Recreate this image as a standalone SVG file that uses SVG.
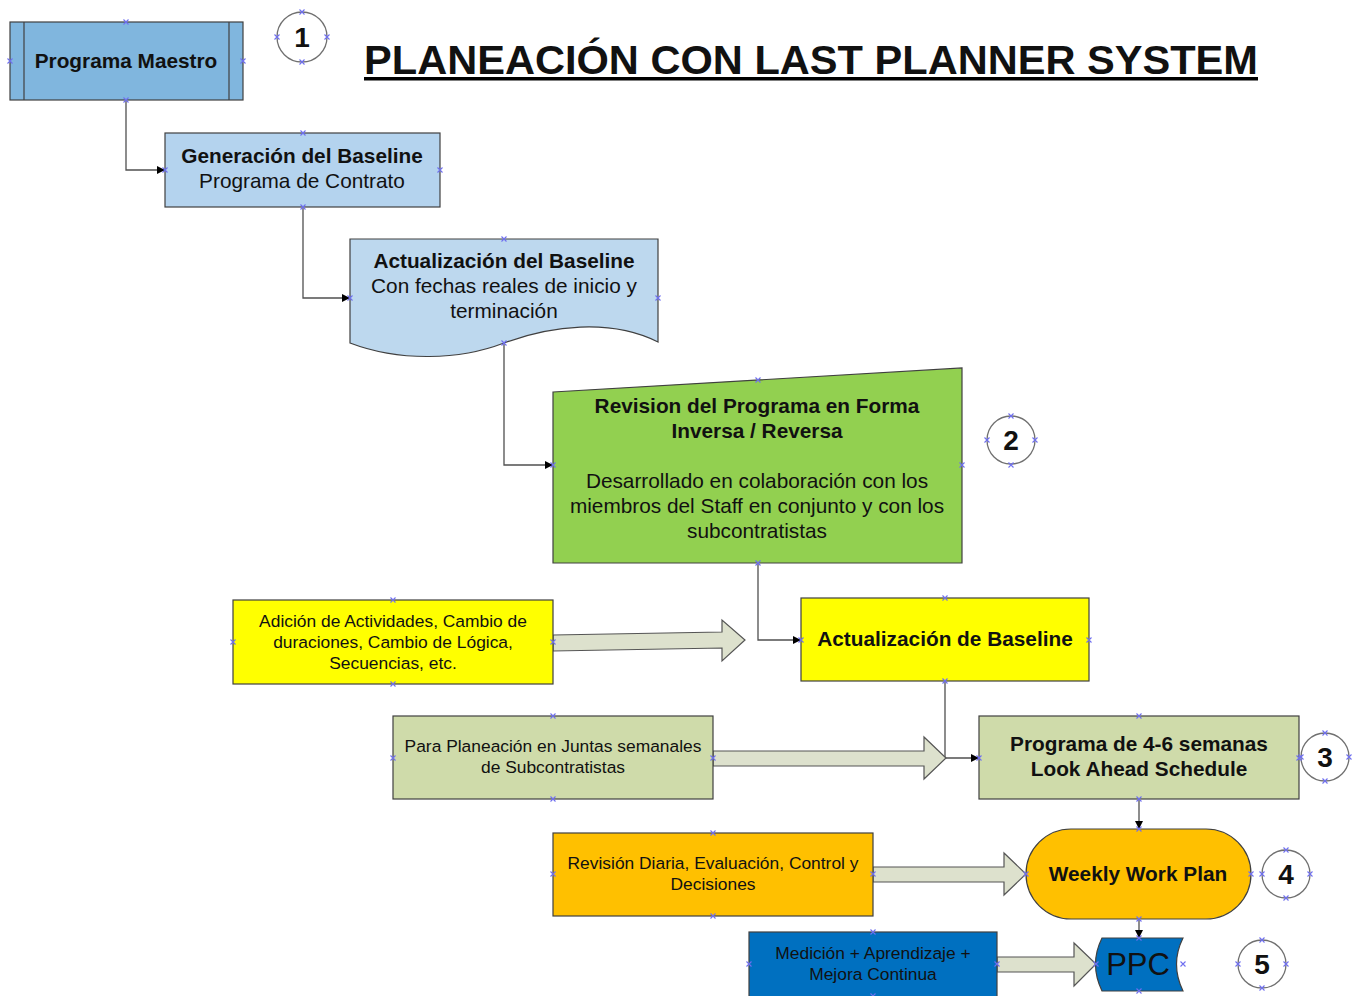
<svg xmlns="http://www.w3.org/2000/svg" xmlns:xlink="http://www.w3.org/1999/xlink" width="1359" height="996" viewBox="0 0 1359 996">
<style>
  text { font-family: "Liberation Sans", Arial, sans-serif; fill: #111; text-anchor: middle; }
  .b { font-weight: bold; font-size: 20.8px; }
  .r { font-size: 20.8px; }
  .s { font-size: 17.4px; }
  .num { font-weight: bold; font-size: 28px; }
  .box { stroke: #404040; stroke-width: 1.2; }
  .circ { fill: #fff; stroke: #707070; stroke-width: 1.3; }
  .conn { fill: none; stroke: #505050; stroke-width: 1.3; marker-end: url(#ah); }
  .barrow { fill: #DDE1CD; stroke: #555; stroke-width: 1.2; }
  .cp { stroke: #6F6FF0; stroke-width: 1.1; fill: none; }
</style>
<defs>
  <marker id="ah" viewBox="0 0 10 10" refX="10" refY="5" markerWidth="8" markerHeight="8" markerUnits="userSpaceOnUse" orient="auto">
    <path d="M0,0 L10,5 L0,10 Z" fill="#000"/>
  </marker>
  <symbol id="x" overflow="visible">
    <path class="cp" d="M-2.5,-2.5 L2.5,2.5 M-2.5,2.5 L2.5,-2.5"/>
  </symbol>
</defs>
<rect width="1359" height="996" fill="#fff"/>

<g id="title">
  <text x="811" y="74" font-size="40" font-weight="bold" textLength="894" lengthAdjust="spacingAndGlyphs">PLANEACIÓN CON LAST PLANNER SYSTEM</text>
  <rect x="364" y="77" width="894" height="3.5" fill="#000"/>
</g>

<g id="connectors">
  <path class="conn" d="M126,100 V170 H165"/>
  <path class="conn" d="M303,207 V298 H350"/>
  <path class="conn" d="M504,343 V465 H553"/>
  <path class="conn" d="M758,563 V640 H801"/>
  <path class="conn" d="M945,681 V758 H979"/>
  <path class="conn" d="M1139,799 V829"/>
  <path class="conn" d="M1139,919 V938"/>
  <path class="barrow" d="M553,635 L722,632 L722,620 L745,640 L722,661 L722,648 L553,651 Z"/>
  <path class="barrow" d="M713,751 L924,751 L924,737 L946,758 L924,779 L924,766 L713,766 Z"/>
  <path class="barrow" d="M873,867 L1004,867 L1004,853 L1026,874 L1004,895 L1004,882 L873,882 Z"/>
  <path class="barrow" d="M997,957 L1074,957 L1074,943 L1096,964 L1074,986 L1074,972 L997,972 Z"/>
</g>

<g id="programa-maestro">
  <rect class="box" x="10" y="22" width="233" height="78" fill="#80B6DE"/>
  <line class="box" x1="24" y1="22" x2="24" y2="100"/>
  <line class="box" x1="229" y1="22" x2="229" y2="100"/>
  <text class="b" x="126" y="68">Programa Maestro</text>
</g>

<g id="circle-1">
  <circle class="circ" cx="302" cy="37" r="25"/>
  <text class="num" x="302" y="47">1</text>
</g>

<g id="generacion-baseline">
  <rect class="box" x="165" y="133" width="275" height="74" fill="#B4D3EE"/>
  <text class="b" x="302" y="163">Generación del Baseline</text>
  <text class="r" x="302" y="188">Programa de Contrato</text>
</g>

<g id="actualizacion-del-baseline">
  <path class="box" d="M350,239 H658 V342 C610,318 550,326 504,343 C460,360 400,362 350,343 Z" fill="#BDD8EE"/>
  <text class="b" x="504" y="268">Actualización del Baseline</text>
  <text class="r" x="504" y="293">Con fechas reales de inicio y</text>
  <text class="r" x="504" y="318">terminación</text>
</g>

<g id="revision-programa">
  <path class="box" d="M553,392 L962,368 V563 H553 Z" fill="#92D050"/>
  <text class="b" x="757" y="413">Revision del Programa en Forma</text>
  <text class="b" x="757" y="438">Inversa / Reversa</text>
  <text class="r" x="757" y="488">Desarrollado en colaboración con los</text>
  <text class="r" x="757" y="513">miembros del Staff en conjunto y con los</text>
  <text class="r" x="757" y="538">subcontratistas</text>
</g>

<g id="circle-2">
  <circle class="circ" cx="1011" cy="440" r="24"/>
  <text class="num" x="1011" y="450">2</text>
</g>

<g id="adicion-actividades">
  <rect class="box" x="233" y="600" width="320" height="84" fill="#FFFF00"/>
  <text class="s" x="393" y="627">Adición de Actividades, Cambio de</text>
  <text class="s" x="393" y="648">duraciones, Cambio de Lógica,</text>
  <text class="s" x="393" y="669">Secuencias, etc.</text>
</g>

<g id="actualizacion-de-baseline">
  <rect class="box" x="801" y="598" width="288" height="83" fill="#FFFF00"/>
  <text class="b" x="945" y="646">Actualización de Baseline</text>
</g>

<g id="para-planeacion">
  <rect class="box" x="393" y="716" width="320" height="83" fill="#CFDBAA"/>
  <text class="s" x="553" y="752">Para Planeación en Juntas semanales</text>
  <text class="s" x="553" y="773">de Subcontratistas</text>
</g>

<g id="programa-4-6">
  <rect class="box" x="979" y="716" width="320" height="83" fill="#CFDBAA"/>
  <text class="b" x="1139" y="751">Programa de 4-6 semanas</text>
  <text class="b" x="1139" y="776">Look Ahead Schedule</text>
</g>

<g id="circle-3">
  <circle class="circ" cx="1325" cy="757" r="24"/>
  <text class="num" x="1325" y="767">3</text>
</g>

<g id="revision-diaria">
  <rect class="box" x="553" y="833" width="320" height="83" fill="#FFC000"/>
  <text class="s" x="713" y="869">Revisión Diaria, Evaluación, Control y</text>
  <text class="s" x="713" y="890">Decisiones</text>
</g>

<g id="weekly-work-plan">
  <rect class="box" x="1026" y="829" width="225" height="90" rx="45" ry="45" fill="#FFC000"/>
  <text class="b" x="1138" y="881">Weekly Work Plan</text>
</g>

<g id="circle-4">
  <circle class="circ" cx="1286" cy="874" r="24"/>
  <text class="num" x="1286" y="884">4</text>
</g>

<g id="medicion">
  <rect class="box" x="749" y="932" width="248" height="70" fill="#0070C0"/>
  <text class="s" x="873" y="959">Medición + Aprendizaje +</text>
  <text class="s" x="873" y="980">Mejora Continua</text>
</g>

<g id="ppc">
  <path class="box" d="M1102,938 H1183 Q1170,964 1183,991 H1102 Q1089,964 1102,938 Z" fill="#0070C0"/>
  <text x="1138" y="975" font-size="31">PPC</text>
</g>

<g id="circle-5">
  <circle class="circ" cx="1262" cy="964" r="24"/>
  <text class="num" x="1262" y="974">5</text>
</g>

<g id="connection-points">
  <use href="#x" x="126" y="22"/><use href="#x" x="10" y="61"/><use href="#x" x="243" y="61"/><use href="#x" x="126" y="100"/>
  <use href="#x" x="302" y="12"/><use href="#x" x="277" y="37"/><use href="#x" x="327" y="37"/><use href="#x" x="302" y="62"/>
  <use href="#x" x="303" y="133"/><use href="#x" x="165" y="170"/><use href="#x" x="440" y="170"/><use href="#x" x="303" y="207"/>
  <use href="#x" x="504" y="239"/><use href="#x" x="350" y="298"/><use href="#x" x="658" y="298"/><use href="#x" x="504" y="343"/>
  <use href="#x" x="758" y="380"/><use href="#x" x="553" y="465"/><use href="#x" x="962" y="465"/><use href="#x" x="758" y="563"/>
  <use href="#x" x="1011" y="416"/><use href="#x" x="987" y="440"/><use href="#x" x="1035" y="440"/><use href="#x" x="1011" y="465"/>
  <use href="#x" x="393" y="600"/><use href="#x" x="233" y="642"/><use href="#x" x="553" y="642"/><use href="#x" x="393" y="684"/>
  <use href="#x" x="945" y="598"/><use href="#x" x="801" y="640"/><use href="#x" x="1089" y="640"/><use href="#x" x="945" y="681"/>
  <use href="#x" x="553" y="716"/><use href="#x" x="393" y="758"/><use href="#x" x="713" y="758"/><use href="#x" x="553" y="799"/>
  <use href="#x" x="1139" y="716"/><use href="#x" x="979" y="758"/><use href="#x" x="1299" y="758"/><use href="#x" x="1139" y="799"/>
  <use href="#x" x="1325" y="733"/><use href="#x" x="1301" y="757"/><use href="#x" x="1349" y="757"/><use href="#x" x="1325" y="781"/>
  <use href="#x" x="713" y="833"/><use href="#x" x="553" y="874"/><use href="#x" x="873" y="874"/><use href="#x" x="713" y="916"/>
  <use href="#x" x="1139" y="829"/><use href="#x" x="1026" y="874"/><use href="#x" x="1251" y="874"/><use href="#x" x="1139" y="919"/>
  <use href="#x" x="1286" y="850"/><use href="#x" x="1262" y="874"/><use href="#x" x="1310" y="874"/><use href="#x" x="1286" y="898"/>
  <use href="#x" x="873" y="932"/><use href="#x" x="749" y="964"/><use href="#x" x="997" y="964"/><use href="#x" x="873" y="996"/>
  <use href="#x" x="1139" y="938"/><use href="#x" x="1096" y="964"/><use href="#x" x="1183" y="964"/><use href="#x" x="1139" y="991"/>
  <use href="#x" x="1262" y="940"/><use href="#x" x="1238" y="964"/><use href="#x" x="1286" y="964"/><use href="#x" x="1262" y="988"/>
</g>
</svg>
